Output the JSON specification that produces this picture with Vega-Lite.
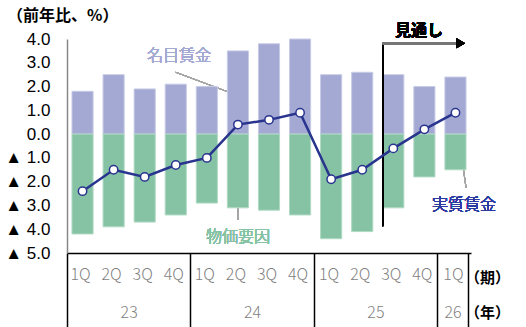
{
  "$schema": "https://vega.github.io/schema/vega-lite/v6.json",
  "width": 404,
  "height": 214,
  "autosize": "none",
  "padding": {"left": 67, "top": 39, "right": 55, "bottom": 74},
  "background": "white",
  "title": {
    "text": "（前年比、%）",
    "anchor": "start",
    "frame": "group",
    "dx": -60,
    "offset": -1,
    "font": "Noto Sans CJK JP",
    "fontSize": 16,
    "fontWeight": "bold",
    "color": "#000000"
  },
  "config": {
    "view": {"stroke": null},
    "axis": {"grid": false}
  },
  "datasets": {
    "rows": [
      {"p": "23-1Q", "nominal": 1.8, "price": -4.2, "real": -2.4},
      {"p": "23-2Q", "nominal": 2.5, "price": -3.9, "real": -1.5},
      {"p": "23-3Q", "nominal": 1.9, "price": -3.7, "real": -1.8},
      {"p": "23-4Q", "nominal": 2.1, "price": -3.4, "real": -1.3},
      {"p": "24-1Q", "nominal": 2.0, "price": -2.9, "real": -1.0},
      {"p": "24-2Q", "nominal": 3.5, "price": -3.1, "real": 0.4},
      {"p": "24-3Q", "nominal": 3.8, "price": -3.2, "real": 0.6},
      {"p": "24-4Q", "nominal": 4.0, "price": -3.4, "real": 0.9},
      {"p": "25-1Q", "nominal": 2.5, "price": -4.4, "real": -1.9},
      {"p": "25-2Q", "nominal": 2.6, "price": -4.1, "real": -1.5},
      {"p": "25-3Q", "nominal": 2.5, "price": -3.1, "real": -0.6},
      {"p": "25-4Q", "nominal": 2.0, "price": -1.8, "real": 0.2},
      {"p": "26-1Q", "nominal": 2.4, "price": -1.5, "real": 0.9}
    ]
  },
  "resolve": {"scale": {"x": "independent"}, "axis": {"x": "independent"}},
  "layer": [
    {
      "data": {"name": "rows"},
      "encoding": {
        "x": {
          "field": "p",
          "type": "nominal",
          "sort": null,
          "scale": {
            "domain": ["23-1Q", "23-2Q", "23-3Q", "23-4Q", "24-1Q", "24-2Q", "24-3Q", "24-4Q", "25-1Q", "25-2Q", "25-3Q", "25-4Q", "26-1Q"],
            "paddingInner": 0.32,
            "paddingOuter": 0.16
          },
          "axis": {
            "orient": "bottom",
            "title": "（期）",
            "titleX": 420,
            "titleY": 24,
            "titleAlign": "center",
            "titleBaseline": "middle",
            "titleFont": "Noto Sans CJK JP",
            "titleFontSize": 15,
            "titleFontWeight": "bold",
            "titleColor": "#000000",
            "domain": false,
            "ticks": false,
            "labelAngle": 0,
            "labelExpr": "split(datum.value, '-')[1]",
            "labelFont": "Noto Sans CJK JP",
            "labelFontWeight": 300,
            "labelFontSize": 16,
            "labelColor": "#7f7f7f",
            "labelPadding": 13,
            "labelOffset": -2
          }
        },
        "y": {
          "type": "quantitative",
          "scale": {"domain": [-5, 4], "nice": false, "zero": false},
          "axis": {
            "title": null,
            "values": [-5, -4, -3, -2, -1, 0, 1, 2, 3, 4],
            "labelExpr": "datum.value < 0 ? '▲ ' + format(-datum.value, '.1f') : format(datum.value, '.1f')",
            "labelFont": "Liberation Sans",
            "labelFontSize": 17,
            "labelColor": "#000000",
            "labelPadding": 17,
            "ticks": false,
            "domainColor": "#888888",
            "domainWidth": 1.5
          }
        }
      },
      "layer": [
        {
          "mark": {"type": "rule", "color": "#a6a6a6", "strokeWidth": 1},
          "encoding": {
            "x": {"datum": "24-2Q"},
            "y": {"datum": 1.62},
            "x2": {"datum": "23-4Q"},
            "y2": {"datum": 2.6}
          }
        },
        {
          "mark": {"type": "rule", "color": "#a6a6a6", "strokeWidth": 1},
          "encoding": {
            "x": {"datum": "24-2Q"},
            "y": {"datum": -3.1},
            "y2": {"datum": -3.6}
          }
        },
        {
          "mark": {"type": "rule", "color": "#a6a6a6", "strokeWidth": 1},
          "encoding": {
            "x": {"datum": "26-1Q", "bandPosition": 1},
            "y": {"datum": -2.25},
            "x2": {"datum": "26-1Q"},
            "y2": {"datum": 0.9}
          }
        },
        {
          "mark": {"type": "bar", "color": "#a4a9d3", "stroke": "#c8cbe6", "strokeWidth": 1},
          "encoding": {"y": {"field": "nominal"}}
        },
        {
          "mark": {"type": "bar", "color": "#86c3a5", "stroke": "#b0dac4", "strokeWidth": 1},
          "encoding": {"y": {"field": "price"}}
        },
        {
          "mark": {"type": "rule", "color": "#000000", "strokeWidth": 1.5},
          "encoding": {"y": {"datum": 0}}
        },
        {
          "mark": {"type": "rule", "color": "#000000", "strokeWidth": 1.5},
          "encoding": {
            "x": {"datum": "25-3Q", "bandPosition": 0},
            "y": {"datum": 3.82},
            "y2": {"datum": -3.87}
          }
        },
        {
          "mark": {"type": "rule", "color": "#777777", "strokeWidth": 2.5},
          "encoding": {
            "x": {"datum": "25-3Q", "bandPosition": 0},
            "x2": {"datum": "26-1Q"},
            "y": {"datum": 3.82}
          }
        },
        {
          "mark": {"type": "point", "shape": "triangle-right", "filled": true, "color": "#000000", "size": 100, "opacity": 1},
          "encoding": {
            "x": {"datum": "26-1Q", "bandPosition": 0.75},
            "y": {"datum": 3.82}
          }
        },
        {
          "mark": {"type": "line", "color": "#29348f", "strokeWidth": 2.5},
          "encoding": {"y": {"field": "real"}}
        },
        {
          "mark": {"type": "point", "filled": true, "fill": "#ffffff", "stroke": "#29348f", "strokeWidth": 1.5, "size": 70, "opacity": 1},
          "encoding": {"y": {"field": "real"}}
        },
        {
          "mark": {"type": "text", "text": "見通し", "font": "Noto Sans CJK JP", "fontSize": 16, "fontWeight": "bold", "color": "#000000"},
          "encoding": {
            "x": {"datum": "25-4Q", "bandPosition": 0.25},
            "y": {"datum": 4.33}
          }
        },
        {
          "mark": {"type": "text", "text": "名目賃金", "font": "Noto Sans CJK JP", "fontSize": 16, "fontWeight": 300, "color": "#a4a9d3"},
          "encoding": {
            "x": {"datum": "23-4Q", "bandPosition": 0.65},
            "y": {"datum": 3.3}
          }
        },
        {
          "mark": {"type": "text", "text": "物価要因", "font": "Noto Sans CJK JP", "fontSize": 16, "fontWeight": 300, "color": "#86c3a5"},
          "encoding": {
            "x": {"datum": "24-2Q"},
            "y": {"datum": -4.33}
          }
        },
        {
          "mark": {"type": "text", "text": "実質賃金", "font": "Noto Sans CJK JP", "fontSize": 16, "fontWeight": 300, "color": "#2b3aa0"},
          "encoding": {
            "x": {"datum": "26-1Q", "bandPosition": 0.9},
            "y": {"datum": -3.0}
          }
        }
      ]
    },
    {
      "mark": {"type": "point", "opacity": 0},
      "encoding": {
        "x": {
          "datum": 0,
          "type": "quantitative",
          "scale": {"domain": [0, 13.1], "nice": false, "zero": false},
          "axis": {
            "orient": "bottom",
            "values": [0, 2, 4, 6, 8, 10, 12, 12.5, 13],
            "labelExpr": "datum.value == 2 ? '23' : datum.value == 6 ? '24' : datum.value == 10 ? '25' : datum.value == 12.5 ? '26' : ''",
            "labelFont": "Noto Sans CJK JP",
            "labelFontWeight": 300,
            "labelFontSize": 16,
            "labelColor": "#7f7f7f",
            "labelBaseline": "middle",
            "labelPadding": -15,
            "labelFlush": false,
            "labelOverlap": false,
            "tickSize": 74,
            "tickWidth": 1.5,
            "tickColor": "#000000",
            "tickOpacity": {"condition": {"test": "datum.value == 2 || datum.value == 6 || datum.value == 10 || datum.value == 12.5", "value": 0}, "value": 1},
            "domain": true,
            "domainColor": "#000000",
            "domainWidth": 1.5,
            "title": "（年）",
            "titleX": 420,
            "titleY": 59,
            "titleAlign": "center",
            "titleBaseline": "middle",
            "titleFont": "Noto Sans CJK JP",
            "titleFontSize": 15,
            "titleFontWeight": "bold",
            "titleColor": "#000000"
          }
        }
      }
    }
  ]
}
